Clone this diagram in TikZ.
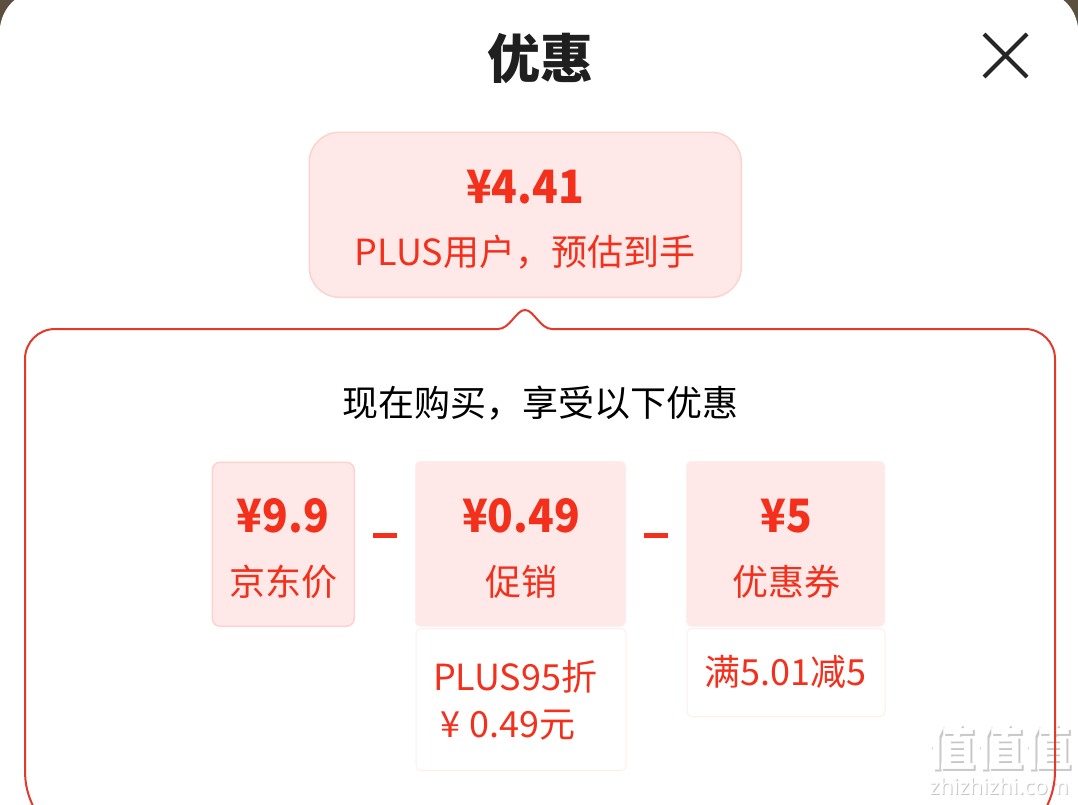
\documentclass[tikz,border=0pt]{standalone}
\usepackage{fontspec}
\setmainfont{Noto Sans CJK SC}
\newfontfamily\latinfont{Noto Sans}
\newfontfamily\pricefont[FakeStretch=0.92]{Noto Sans CJK SC}
\definecolor{jdred}{HTML}{F2301C}
\definecolor{jdpink}{HTML}{FFE9E8}
\definecolor{jdedge}{HTML}{FBD3CF}
\definecolor{jdfaint}{HTML}{FDEFEE}
\definecolor{jdline}{HTML}{E2392B}
\definecolor{jdbrown}{HTML}{5B4F40}
\definecolor{wmshade}{HTML}{C8C8C8}
\tikzset{
  x=1pt,y=-1pt,
  pricebox/.style={draw=jdedge,fill=jdpink,line width=1.5pt,rounded corners=8pt,inner sep=0pt,anchor=north west},
  pricetop/.style={fill=jdpink,draw=jdfaint,line width=.5pt,rounded corners=5pt,inner sep=0pt,anchor=north west},
  notebox/.style={draw=jdfaint,fill=white,line width=1pt,rounded corners=5pt,inner sep=0pt,anchor=north west},
  pricetext/.style={text=jdred,font=\pricefont\fontsize{46}{46}\selectfont\bfseries,inner sep=0pt},
  labeltext/.style={text=jdred,font=\fontsize{36}{36}\selectfont,inner sep=0pt},
  minusbar/.style={fill=jdred,inner sep=0pt,minimum width=24pt,minimum height=5pt},
  wmark/.style={inner sep=0pt,font=\fontsize{48}{48}\selectfont\bfseries},
  wmsmall/.style={inner sep=0pt,font=\latinfont\fontsize{22}{22}\selectfont},
}
\begin{document}
\begin{tikzpicture}
\useasboundingbox (0,0) rectangle (1078,804);
\fill[jdbrown] (0,0) rectangle (1078,60);
\fill[white] (0,804) -- (0,27) .. controls (2,14) and (8,5) .. (16,-1) -- (1062,-1) .. controls (1070,5) and (1076,14) .. (1078,27) -- (1078,804) -- cycle;
\node[font=\fontsize{53}{53}\selectfont\bfseries,text=black!88,inner sep=0pt] (title) at (540,58) {优惠};
\coordinate (xa) at (984,34);\coordinate (xb) at (1027,77);
\coordinate (xc) at (1027,34);\coordinate (xd) at (984,77);
\draw[black!85,line width=4pt] (xa) -- (xb) (xc) -- (xd);
\node[pricebox,rounded corners=30pt,minimum width=432pt,minimum height=165pt] (summary) at (308.5,131.5) {};
\node[pricetext] (sumprice) at (525,187) {¥4.41};
\node[labeltext] (sumlabel) at (525,252) {PLUS用户，预估到手};
\node[wmark,text=wmshade] (wmshadow) at (1001,749) {值值值};
\node[wmark,text=white] (wmtop) at (999,747) {值值值};
\node[wmsmall,text=wmshade] (urlshadow) at (1000,787) {zhizhizhi.com};
\node[wmsmall,text=white] (urltop) at (999,786) {zhizhizhi.com};
\draw[jdline,line width=2pt] (33,806) .. controls (28,795) and (25,785) .. (25,770) -- (25,359) .. controls (25,342.4) and (38.4,329) .. (55,329) -- (498,329)
  .. controls (510,329) and (516,310) .. (525,310) .. controls (534,310) and (540,329) .. (552,329)
  -- (1025,329) .. controls (1041.6,329) and (1055,342.4) .. (1055,359) -- (1055,770) .. controls (1055,785) and (1052,795) .. (1047,806);
\node[font=\fontsize{36}{36}\selectfont,text=black,inner sep=0pt] (heading) at (540,403) {现在购买，享受以下优惠};
\node[pricebox,minimum width=142pt,minimum height=164pt] (jdbox) at (211.5,461.5) {};
\node[pricetext] (jdprice) at (283,516) {¥9.9};
\node[labeltext] (jdlabel) at (283,582) {京东价};
\node[minusbar] (minusa) at (385,535) {};
\node[pricetop,minimum width=210.5pt,minimum height=165pt] (promobox) at (415,461) {};
\node[pricetext] (promoprice) at (521,516) {¥0.49};
\node[labeltext] (promolabel) at (521,582) {促销};
\node[minusbar] (minusb) at (656,535) {};
\node[pricetop,minimum width=198.5pt,minimum height=165pt] (couponbox) at (686,461) {};
\node[pricetext] (couponprice) at (786,516) {¥5};
\node[labeltext] (couponlabel) at (786,582) {优惠券};
\node[notebox,minimum width=210pt,minimum height=142pt] (promonote) at (415.5,628) {};
\node[labeltext,anchor=west] (promolinea) at (433,677) {PLUS95折};
\node[labeltext,anchor=west] (promolineb) at (440,725) {¥\hspace{9pt}0.49元};
\node[notebox,minimum width=198pt,minimum height=88pt] (couponnote) at (686.5,628) {};
\node[labeltext] (couponline) at (785.5,672) {满5.01减5};
\end{tikzpicture}
\end{document}
